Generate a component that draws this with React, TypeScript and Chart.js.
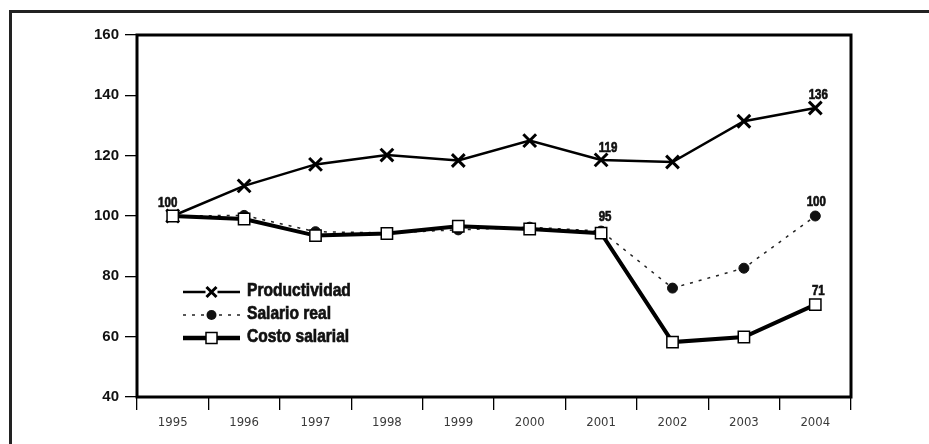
import React, { useEffect, useRef } from "react";
import { Chart, registerables } from "chart.js";

Chart.register(...registerables);

// ---- data ----
const years = ["1995", "1996", "1997", "1998", "1999", "2000", "2001", "2002", "2003", "2004"];
const seriesNames = ["Productividad", "Salario real", "Costo salarial"];
const productividad = [100, 110, 117.1, 120.2, 118.4, 125, 118.6, 117.9, 131.4, 135.8];
const salarioReal = [100, 100.2, 94.8, 94.4, 95.4, 96.3, 95, 76.1, 82.7, 100];
const costoSalarial = [100, 99, 93.5, 94.2, 96.6, 95.7, 94.3, 58.2, 59.9, 70.6];
const yMin = 40;
const yMax = 160;
const yStep = 20;
// value labels: [series index, point index, text]
const valueLabels: [number, number, string][] = [
  [2, 0, "100"],
  [0, 6, "119"],
  [0, 9, "136"],
  [2, 6, "95"],
  [1, 9, "100"],
  [2, 9, "71"],
];

const WIDE = "'Liberation Sans', Arial, sans-serif";
const COND = "'DejaVu Sans Condensed', 'Liberation Sans Narrow', sans-serif";
const SQUEEZE = 0.82;

const labelOffsets: Record<string, [number, number]> = {
  "2-0": [-5, -13],
  "0-6": [7, -12],
  "0-9": [3, -13],
  "2-6": [4, -16],
  "1-9": [1, -14],
  "2-9": [3, -14],
};

function narrowText(ctx: CanvasRenderingContext2D, text: string, x: number, y: number, align: "left" | "center") {
  ctx.save();
  ctx.translate(x, y);
  ctx.scale(SQUEEZE, 1);
  ctx.textAlign = align;
  ctx.fillText(text, 0, 0);
  ctx.lineWidth = 0.7;
  ctx.strokeStyle = ctx.fillStyle as string;
  ctx.strokeText(text, 0, 0);
  ctx.restore();
}

const framePlugin = {
  id: "frame",
  beforeDatasetsDraw(chart: any) {
    const { ctx, chartArea: a } = chart;
    ctx.save();
    ctx.strokeStyle = "#000";
    ctx.lineWidth = 3;
    ctx.strokeRect(a.left, a.top, a.right - a.left, a.bottom - a.top);
    ctx.restore();
  },
};

const labelsPlugin = {
  id: "valueLabels",
  afterDatasetsDraw(chart: any) {
    const { ctx } = chart;
    ctx.save();
    ctx.fillStyle = "#111";
    ctx.font = `bold 14px ${WIDE}`;
    ctx.textBaseline = "middle";
    valueLabels.forEach(([s, i, text]) => {
      const el = chart.getDatasetMeta(s).data[i];
      if (!el) return;
      const off = labelOffsets[`${s}-${i}`] || [0, -13];
      narrowText(ctx, text, el.x + off[0], el.y + off[1], "center");
    });
    ctx.restore();
  },
};

const legendPlugin = {
  id: "innerLegend",
  afterDatasetsDraw(chart: any) {
    const { ctx, chartArea: a } = chart;
    const x0 = a.left + 46;
    const x1 = a.left + 103;
    const mx = (x0 + x1) / 2;
    const tx = a.left + 110;
    const rows = [a.top + 257, a.top + 280, a.top + 303];
    ctx.save();
    // Productividad
    let y = rows[0];
    ctx.strokeStyle = "#000";
    ctx.lineWidth = 2.5;
    ctx.setLineDash([]);
    ctx.beginPath();
    ctx.moveTo(x0, y);
    ctx.lineTo(x1, y);
    ctx.stroke();
    ctx.fillStyle = "#fff";
    ctx.fillRect(mx - 6, y - 6, 12, 12);
    ctx.lineWidth = 3;
    ctx.beginPath();
    ctx.moveTo(mx - 5, y - 5);
    ctx.lineTo(mx + 5, y + 5);
    ctx.moveTo(mx + 5, y - 5);
    ctx.lineTo(mx - 5, y + 5);
    ctx.stroke();
    // Salario real
    y = rows[1];
    ctx.strokeStyle = "#222";
    ctx.lineWidth = 1.5;
    ctx.setLineDash([3, 6]);
    ctx.beginPath();
    ctx.moveTo(x0, y);
    ctx.lineTo(x1, y);
    ctx.stroke();
    ctx.setLineDash([]);
    ctx.fillStyle = "#111";
    ctx.beginPath();
    ctx.arc(mx, y, 5, 0, Math.PI * 2);
    ctx.fill();
    // Costo salarial
    y = rows[2];
    ctx.strokeStyle = "#000";
    ctx.lineWidth = 4.5;
    ctx.beginPath();
    ctx.moveTo(x0, y);
    ctx.lineTo(x1, y);
    ctx.stroke();
    ctx.fillStyle = "#fff";
    ctx.lineWidth = 1.5;
    ctx.fillRect(mx - 5.5, y - 5.5, 11, 11);
    ctx.strokeRect(mx - 5.5, y - 5.5, 11, 11);
    // text
    ctx.fillStyle = "#111";
    ctx.font = `bold 19px ${WIDE}`;
    ctx.textBaseline = "middle";
    seriesNames.forEach((n, i) => narrowText(ctx, n, tx, rows[i] - 1, "left"));
    ctx.restore();
  },
};

export default function App() {
  const ref = useRef<HTMLCanvasElement>(null);

  useEffect(() => {
    if (!ref.current) return;
    const chart = new Chart(ref.current, {
      type: "line",
      data: {
        labels: years,
        datasets: [
          {
            label: seriesNames[0],
            data: productividad,
            borderColor: "#000",
            borderWidth: 2.5,
            pointStyle: "crossRot",
            pointRadius: 9,
            pointBorderWidth: 3,
            pointBorderColor: "#000",
            pointBackgroundColor: "#000",
            tension: 0,
            order: 2,
          },
          {
            label: seriesNames[1],
            data: salarioReal,
            borderColor: "#222",
            borderWidth: 1.5,
            borderDash: [3, 6],
            pointStyle: "circle",
            pointRadius: 5,
            pointBorderWidth: 1,
            pointBorderColor: "#111",
            pointBackgroundColor: "#111",
            tension: 0,
            order: 1,
          },
          {
            label: seriesNames[2],
            data: costoSalarial,
            borderColor: "#000",
            borderWidth: 4,
            pointStyle: "rect",
            pointRadius: 8,
            pointBorderWidth: 1.5,
            pointBorderColor: "#000",
            pointBackgroundColor: "#fff",
            tension: 0,
            order: 0,
          },
        ],
      },
      options: {
        animation: false,
        responsive: false,
        maintainAspectRatio: false,
        layout: { padding: { top: 35, right: 78, bottom: 0, left: 0 } },
        plugins: {
          legend: { display: false },
          tooltip: { enabled: false },
          title: { display: false },
        },
        scales: {
          x: {
            offset: true,
            grid: {
              offset: true,
              drawOnChartArea: false,
              drawTicks: true,
              tickLength: 13,
              color: "#000",
              lineWidth: 1.3,
            },
            border: { display: false },
            ticks: {
              color: "#3a3a3a",
              font: { family: COND, size: 13 },
              padding: 5,
              maxRotation: 0,
              autoSkip: false,
            },
            afterFit(scale: any) {
              scale.height = 47;
            },
          },
          y: {
            min: yMin,
            max: yMax,
            grid: {
              drawOnChartArea: false,
              drawTicks: true,
              tickLength: 12,
              color: "#000",
              lineWidth: 1.3,
            },
            border: { display: false },
            ticks: {
              stepSize: yStep,
              color: "#111",
              font: { family: WIDE, size: 15, weight: "bold" },
              padding: 6,
            },
            afterFit(scale: any) {
              scale.width = 137;
            },
          },
        },
      },
      plugins: [framePlugin, labelsPlugin, legendPlugin],
    });
    return () => chart.destroy();
  }, []);

  return (
    <div style={{ position: "absolute", left: 0, top: 0, width: 929, height: 444, overflow: "hidden", background: "#fff" }}>
      <div
        style={{
          position: "absolute",
          left: 9,
          top: 10,
          width: 1000,
          height: 500,
          borderLeft: "3px solid #222",
          borderTop: "3px solid #222",
        }}
      />
      <canvas ref={ref} width={929} height={444} style={{ position: "absolute", left: 0, top: 0, width: 929, height: 444 }} />
    </div>
  );
}
